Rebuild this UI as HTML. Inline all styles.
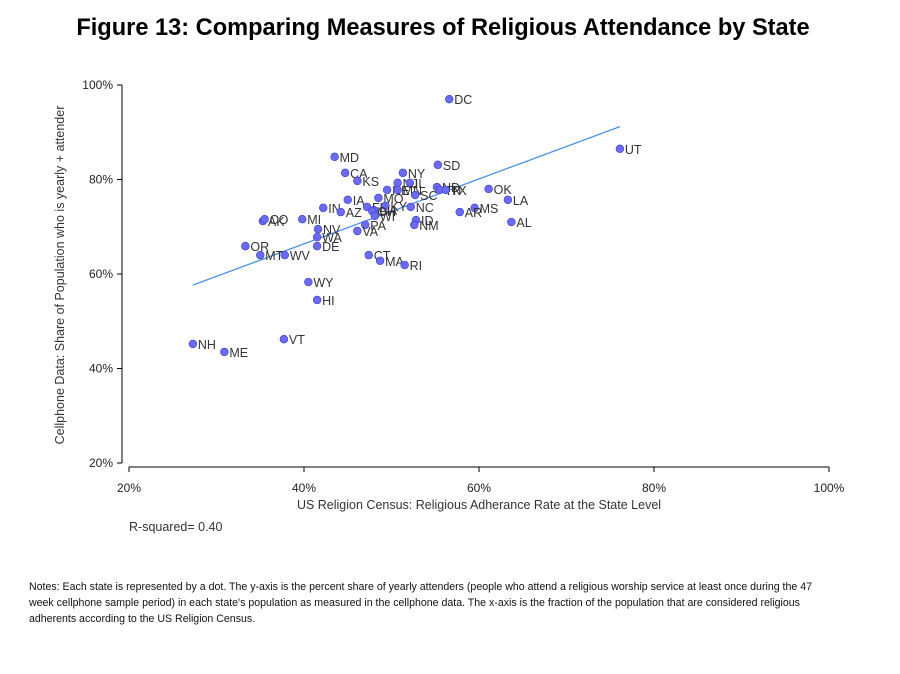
<!DOCTYPE html>
<html><head><meta charset="utf-8"><style>
body{margin:0;background:#fff;width:900px;height:674px;overflow:hidden;font-family:"Liberation Sans",Arial,sans-serif}
#title{position:absolute;left:0;width:886px;top:15px;text-align:center;font-weight:bold;font-size:23.6px;color:#000}
#notes{position:absolute;left:29px;top:579px;width:805px;font-size:10.6px;line-height:16px;color:#111}
</style></head><body>
<div id="title">Figure 13: Comparing Measures of Religious Attendance by State</div>
<svg id="chart" width="900" height="674" style="position:absolute;left:0;top:0"></svg>
<div id="notes">Notes: Each state is represented by a dot. The y-axis is the percent share of yearly attenders (people who attend a religious worship service at least once during the 47 week cellphone sample period) in each state's population as measured in the cellphone data. The x-axis is the fraction of the population that are considered religious adherents according to the US Religion Census.</div>
<script>
const states=["DC","UT","MD","SD","CA","NY","KS","OK","LA","AL","MS","AR","NC","IA","IN","AZ","MI","AK","CO","NV","WA","DE","OR","MT","WV","PA","VA","ID","NM","CT","MA","RI","WY","HI","VT","NH","ME","NJ","IL","NE","MN","ND","TN","TX","SC","MO","FL","GA","KY","OH","WI"];
const adherence=[56.6,76.1,43.5,55.3,44.7,51.3,46.1,61.1,63.3,63.7,59.5,57.8,52.2,45.0,42.2,44.2,39.8,35.3,35.5,41.6,41.5,41.5,33.3,35.0,37.8,47.0,46.1,52.8,52.6,47.4,48.7,51.5,40.5,41.5,37.7,27.3,30.9,50.7,52.1,49.5,50.7,55.2,55.5,56.2,52.7,48.5,47.2,48.0,49.3,47.8,48.1];
const attendance=[97.0,86.5,84.8,83.1,81.4,81.4,79.7,78.0,75.7,71.0,74.0,73.1,74.2,75.7,74.0,73.1,71.6,71.2,71.6,69.5,67.8,65.9,65.9,64.0,64.0,70.4,69.1,71.4,70.4,64.0,62.8,61.9,58.3,54.5,46.2,45.2,43.5,79.3,79.3,77.8,77.8,78.4,77.8,77.8,76.7,76.1,74.2,73.5,74.4,73.3,72.3];
const xTicks=[20,40,60,80,100];
const yTicks=[20,40,60,80,100];
const fitSlope=[0.687];
const fitIntercept=[38.9];
const NS="http://www.w3.org/2000/svg";
const svg=document.getElementById('chart');
const X=v=>129+(v-20)*8.75;
const Y=v=>85+(100-v)*4.725;
function mk(t,a,p){const e=document.createElementNS(NS,t);for(const k in a)e.setAttribute(k,a[k]);(p||svg).appendChild(e);return e;}
let ax=mk('line',{x1:122,y1:Y(100),x2:122,y2:Y(20),stroke:'#000','stroke-width':1});


let bx=mk('line',{x1:X(20),y1:467,x2:X(100),y2:467,stroke:'#000','stroke-width':1});


yTicks.forEach(t=>{
 mk('line',{x1:117,y1:Y(t),x2:122,y2:Y(t),stroke:'#000'});
 const tx=mk('text',{x:113,y:Y(t)+4,'text-anchor':'end','font-size':12,fill:'#222'});
 tx.textContent=t+'%';
 
 
});
xTicks.forEach(t=>{
 mk('line',{x1:X(t),y1:467,x2:X(t),y2:472,stroke:'#000'});
 const tx=mk('text',{x:X(t),y:492,'text-anchor':'middle','font-size':12,fill:'#222'});
 tx.textContent=t+'%';
 
 
});
let xt=mk('text',{x:479,y:509,'text-anchor':'middle','font-size':12.5,fill:'#333'});
xt.textContent='US Religion Census: Religious Adherance Rate at the State Level';


let yt=mk('text',{x:0,y:0,'text-anchor':'middle','font-size':12.5,fill:'#333',transform:'translate(64,275) rotate(-90)'});
yt.textContent='Cellphone Data: Share of Population who is yearly + attender';


let rs=mk('text',{x:129,y:531,'font-size':12.5,fill:'#333'});
rs.textContent='R-squared= 0.40';


const xmin=Math.min(...adherence),xmax=Math.max(...adherence);
let fl=mk('line',{x1:X(xmin),y1:Y(fitIntercept[0]+fitSlope[0]*xmin),x2:X(xmax),y2:Y(fitIntercept[0]+fitSlope[0]*xmax),stroke:'#4a90e2','stroke-width':1.3});


states.forEach((s,i)=>{
 const cx=X(adherence[i]),cy=Y(attendance[i]);
 const c=mk('circle',{cx:cx,cy:cy,r:3.9,fill:'#6b6bf0',stroke:'#3a3ad0','stroke-width':0.6});
 
 
 const t=mk('text',{x:cx+5,y:cy+5,'font-size':12.5,fill:'#333'});
 t.textContent=s;
 
 
});
</script>
</body></html>
